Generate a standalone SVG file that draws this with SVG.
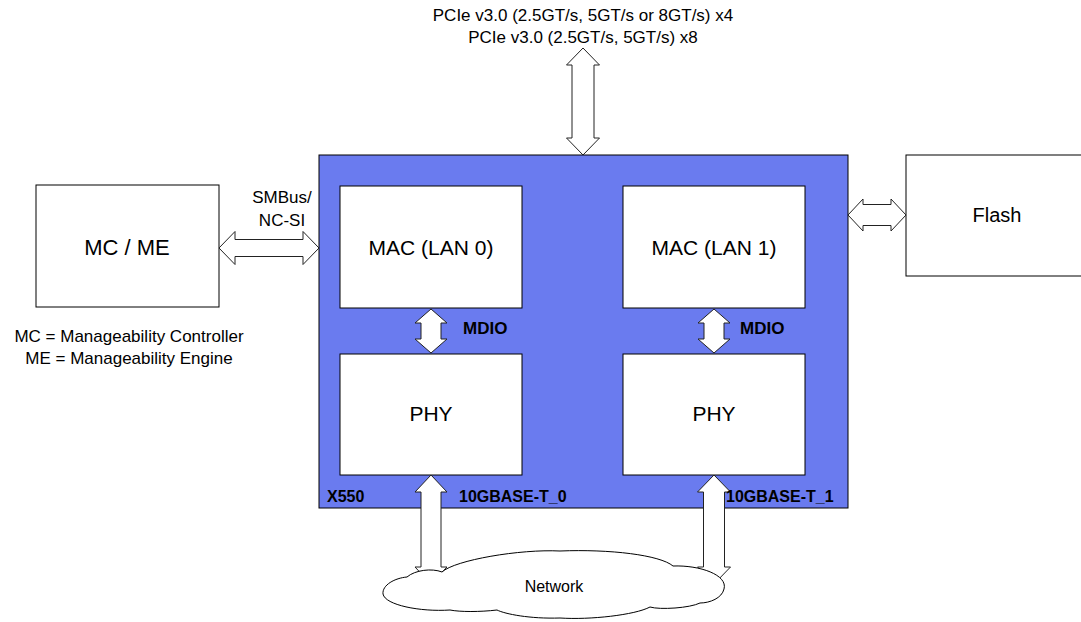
<svg xmlns="http://www.w3.org/2000/svg" width="1081" height="622" viewBox="0 0 1081 622">
<style>
text{font-family:"Liberation Sans",Arial,sans-serif;fill:#000}
.box{fill:#fff;stroke:#000;stroke-width:1}
.arr{fill:#fff;stroke:#222;stroke-width:1}
.big{font-size:21px}
.sm{font-size:17px}
.b{font-weight:bold;font-size:16px}
</style>
<rect width="1081" height="622" fill="#fff"/>
<g id="x550">
<rect x="319" y="155" width="529" height="353" fill="#6a7bef" stroke="#000" stroke-width="1"/>
<text class="b" x="327" y="502">X550</text>
</g>
<g id="mac0"><rect class="box" x="340" y="186" width="182" height="122"/><text class="big" x="431" y="255" text-anchor="middle">MAC (LAN 0)</text></g>
<g id="mac1"><rect class="box" x="623" y="186" width="182" height="122"/><text class="big" x="714" y="255" text-anchor="middle">MAC (LAN 1)</text></g>
<g id="phy0"><rect class="box" x="340" y="354" width="182" height="121"/><text class="big" x="431" y="421" text-anchor="middle">PHY</text></g>
<g id="phy1"><rect class="box" x="623" y="354" width="182" height="121"/><text class="big" x="714" y="421" text-anchor="middle">PHY</text></g>
<g id="mcme"><rect class="box" x="36" y="185" width="183" height="122"/><text class="big" x="127" y="255" text-anchor="middle" style="font-size:22px">MC / ME</text></g>
<g id="flash"><rect class="box" x="906" y="155" width="180" height="121"/><text class="big" x="997" y="222" text-anchor="middle" style="font-size:20px">Flash</text></g>
<g id="connectors">
<polygon class="arr" points="583,48 599.5,65 594,65 594,138 599.5,138 583,155 566.5,138 572,138 572,65 566.5,65"/>
<polygon class="arr" points="219,248 235,231.5 235,239.5 303,239.5 303,231.5 319,248 303,264.5 303,256.5 235,256.5 235,264.5"/>
<polygon class="arr" points="848,215 863,199 863,204.5 891,204.5 891,199 906,215 891,231 891,225.5 863,225.5 863,231"/>
<polygon class="arr" points="431,309 447,323 441,323 441,339 447,339 431,353 415,339 421,339 421,323 415,323"/>
<polygon class="arr" points="714,309 730,323 724,323 724,339 730,339 714,353 698,339 704,339 704,323 698,323"/>
<polygon class="arr" points="431,475 447,492 441,492 441,567 447,567 431,584 415,567 421,567 421,492 415,492"/>
<polygon class="arr" points="714,475 730.5,492 724.5,492 724.5,567 730.5,567 714,584 697.5,567 703.5,567 703.5,492 697.5,492"/>
</g>
<g id="network">
<path d="M407 577 C415 570 432 568 442 572 C455 560 520 549 560 551 C610 549 660 555 673 566 C700 565 728 575 724 589 C722 598 710 603 700 603 C690 608 660 610 650 607 C635 615 590 620 560 618 C530 619 505 614 497 610 C480 612 460 612 450 610 C420 612 385 605 383 594 C382 585 395 578 407 577 Z" fill="#fff" stroke="#000" stroke-width="1"/>
<text x="554" y="592" text-anchor="middle" style="font-size:16px">Network</text>
</g>
<g id="labels">
<text class="sm" x="583" y="21" text-anchor="middle">PCIe v3.0 (2.5GT/s, 5GT/s or 8GT/s) x4</text>
<text class="sm" x="583" y="43" text-anchor="middle">PCIe v3.0 (2.5GT/s, 5GT/s) x8</text>
<text class="sm" x="282" y="203" text-anchor="middle">SMBus/</text>
<text class="sm" x="282" y="226" text-anchor="middle">NC-SI</text>
<text class="sm" x="129" y="342" text-anchor="middle">MC = Manageability Controller</text>
<text class="sm" x="129" y="364" text-anchor="middle">ME = Manageability Engine</text>
<text class="b" x="463" y="334" style="font-size:17px">MDIO</text>
<text class="b" x="740" y="334" style="font-size:17px">MDIO</text>
<text class="b" x="459" y="502">10GBASE-T_0</text>
<text class="b" x="726" y="502">10GBASE-T_1</text>
</g>
</svg>
